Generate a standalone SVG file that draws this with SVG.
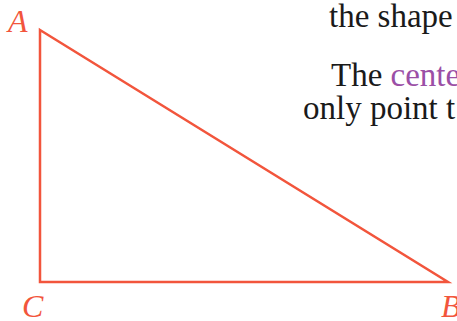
<svg xmlns="http://www.w3.org/2000/svg" width="457" height="321" viewBox="0 0 457 321">
<style>
.tri{fill:none;stroke:#f2553c;stroke-width:2.5;stroke-linejoin:miter}
.lbl{font-family:"Liberation Serif",serif;font-style:italic;font-size:32px;fill:#f2553c}
.txt{font-family:"Liberation Serif",serif;font-size:33px;fill:#1a1a1a}
.hl{fill:#9b4fa6}
</style>
<rect width="457" height="321" fill="#ffffff"/>
<g id="triangle">
<polygon class="tri" points="40,30 448,282 40,282"/>
</g>
<g id="label-A"><text class="lbl" x="8" y="32">A</text></g>
<g id="label-C"><text class="lbl" x="22" y="317">C</text></g>
<g id="label-B"><text class="lbl" x="441" y="317">B</text></g>
<g id="text">
<text class="txt" x="329" y="27">the shape</text>
<text class="txt" x="331" y="86">The <tspan class="hl">cente</tspan></text>
<text class="txt" x="303" y="119">only point t</text>
</g>
</svg>
